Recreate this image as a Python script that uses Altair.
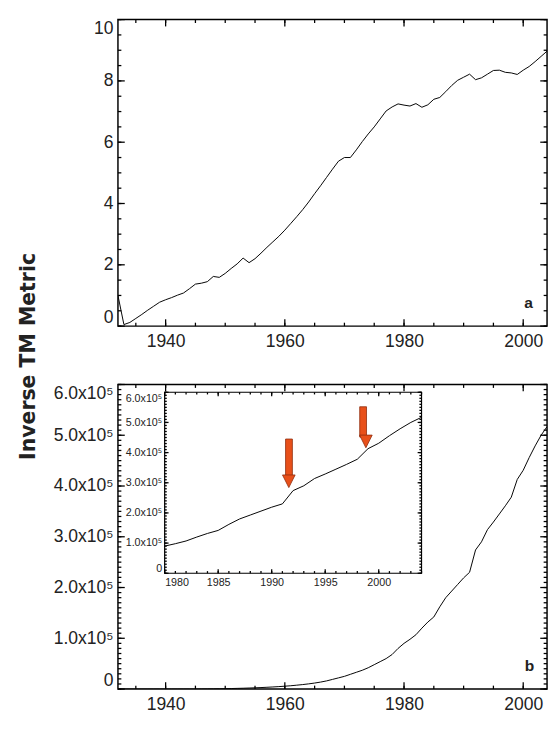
import altair as alt
import pandas as pd

# ---------------- data ----------------
years = list(range(1932, 2005))

# panel a: Inverse TM metric
inverse_a = [
    1.00, 0.05, 0.12, 0.25, 0.38, 0.52, 0.65, 0.78, 0.86, 0.93,   # 1932-1941
    1.01, 1.08, 1.22, 1.37, 1.40, 1.45, 1.62, 1.59, 1.72, 1.88,   # 1942-1951
    2.03, 2.22, 2.07, 2.20, 2.38, 2.57, 2.75, 2.93, 3.13, 3.35,   # 1952-1961
    3.57, 3.80, 4.05, 4.32, 4.58, 4.85, 5.12, 5.38, 5.50, 5.50,   # 1962-1971
    5.75, 6.02, 6.27, 6.50, 6.76, 7.02, 7.15, 7.25, 7.21, 7.18,   # 1972-1981
    7.26, 7.14, 7.22, 7.40, 7.46, 7.65, 7.85, 8.02, 8.12, 8.22,   # 1982-1991
    8.04, 8.10, 8.22, 8.34, 8.35, 8.28, 8.26, 8.21, 8.35, 8.47,   # 1992-2001
    8.63, 8.80, 8.97,                                             # 2002-2004
]

# panel b: Inverse TM metric, in units of 10^5
inverse_b = [
    0.0, 0.0, 0.0, 0.0, 0.0, 0.0, 0.0, 0.0, 0.0, 0.0,             # 1932-1941
    0.0, 0.0, 0.0, 0.0, 0.002, 0.003, 0.004, 0.006, 0.008, 0.010, # 1942-1951
    0.013, 0.016, 0.020, 0.024, 0.029, 0.035, 0.041, 0.048, 0.056, 0.065,  # 1952-1961
    0.076, 0.088, 0.102, 0.118, 0.137, 0.16, 0.19, 0.22, 0.25, 0.29,       # 1962-1971
    0.33, 0.37, 0.42, 0.48, 0.54, 0.60, 0.68, 0.80, 0.90, 0.98,   # 1972-1981
    1.07, 1.20, 1.32, 1.42, 1.62, 1.80, 1.93, 2.06, 2.19, 2.30,   # 1982-1991
    2.74, 2.90, 3.14, 3.29, 3.45, 3.61, 3.78, 4.13, 4.31, 4.56,   # 1992-2001
    4.79, 5.00, 5.17,                                             # 2002-2004
]

arrow_years = [1991.6, 1998.8]
arrow_tops = [4.45, 5.52]
arrow_tips = [2.84, 4.16]

inset_years = [1980, 2004]
inset_values = [0, 6]

major_x_main = [1940, 1960, 1980, 2000]
minor_x_main = list(range(1935, 2005, 5))
major_y_a = [0, 2, 4, 6, 8, 10]
minor_y_a = [i * 0.5 for i in range(21)]
major_y_b = [0, 1, 2, 3, 4, 5, 6]
minor_y_b = [i / 10 for i in range(61)]
major_x_in = [1980, 1985, 1990, 1995, 2000]
minor_x_in = list(range(1980, 2005))

df_a = pd.DataFrame({"year": years, "v": inverse_a})
df_b = pd.DataFrame({"year": years, "v": inverse_b})
df_in = df_b[df_b["year"] >= inset_years[0]]
df_arrow = pd.DataFrame({"year": arrow_years, "top": arrow_tops, "tip": arrow_tips})
df_frame = pd.DataFrame({"x": [inset_years[0]], "x2": [inset_years[1]],
                         "y": [inset_values[0]], "y2": [inset_values[1]]})

# ---------------- layout constants ----------------
W = 441
HA = 315
HB = 313
FONT = "Liberation Sans"
TICK = "#000000"
MAJ, MIN = 7, 3.5
IMAJ, IMIN = 4, 2.2
IN_L, IN_R, IN_T, IN_B = 48, 312, 8, 194
LBL = 18
EXPR_B = "datum.value == 0 ? '0' : format(datum.value, '.1f') + 'x10\u2075'"


def label_axis(orient, values, offset=0, **kw):
    return alt.Axis(orient=orient, values=values, ticks=False, domain=False, grid=False,
                    title=None, offset=offset, **kw)


def x_ticks(values, scale, length, y_bottom, y_top):
    base = alt.Chart(pd.DataFrame({"t": values})).mark_rule(color=TICK, strokeWidth=1.3)
    return [base.encode(x=alt.X("t:Q", scale=scale, axis=None),
                        y=alt.value(y_bottom - length), y2=alt.value(y_bottom)),
            base.encode(x=alt.X("t:Q", scale=scale, axis=None),
                        y=alt.value(y_top), y2=alt.value(y_top + length))]


def y_ticks(values, scale, length, x_left, x_right):
    base = alt.Chart(pd.DataFrame({"t": values})).mark_rule(color=TICK, strokeWidth=1.3)
    return [base.encode(y=alt.Y("t:Q", scale=scale, axis=None),
                        x=alt.value(x_left), x2=alt.value(x_left + length)),
            base.encode(y=alt.Y("t:Q", scale=scale, axis=None),
                        x=alt.value(x_right - length), x2=alt.value(x_right))]


def all_ticks(xs, ys, xmaj, xmin, ymaj, ymin, smaj, smin, left, right, top, bottom):
    return (x_ticks(xmaj, xs, smaj, bottom, top) + x_ticks(xmin, xs, smin, bottom, top)
            + y_ticks(ymaj, ys, smaj, left, right) + y_ticks(ymin, ys, smin, left, right))


def resolve(layered, height):
    return layered.resolve_scale(x="independent", y="independent").resolve_axis(
        x="independent", y="independent").properties(width=W, height=height)


# ---------------- panel a ----------------
xs_main = alt.Scale(domain=[1932, 2004], nice=False, zero=False)
ys_a = alt.Scale(domain=[0, 10], nice=False)

line_a = alt.Chart(df_a).mark_line(color="black", strokeWidth=1, clip=True).encode(
    x=alt.X("year:Q", scale=xs_main,
            axis=label_axis("bottom", major_x_main, format="d", labelPadding=7, labelFontSize=LBL)),
    y=alt.Y("v:Q", scale=ys_a,
            axis=label_axis("left", major_y_a, labelPadding=5, labelFontSize=LBL, labelFlush=True)),
)
ticks_a = all_ticks(xs_main, ys_a, major_x_main, minor_x_main, major_y_a, minor_y_a,
                    MAJ, MIN, 0, W, 0, HA)
label_a = alt.Chart(pd.DataFrame({"t": ["a"]})).mark_text(
    font=FONT, fontSize=16, fontWeight="bold", color="#222"
).encode(text="t:N", x=alt.value(422), y=alt.value(291))

panel_a = resolve(alt.layer(line_a, *ticks_a, label_a), HA)

# ---------------- panel b ----------------
ys_b = alt.Scale(domain=[0, 6], nice=False)
line_b = alt.Chart(df_b).mark_line(color="black", strokeWidth=1, clip=True).encode(
    x=alt.X("year:Q", scale=xs_main,
            axis=label_axis("bottom", major_x_main, format="d", labelPadding=7, labelFontSize=LBL)),
    y=alt.Y("v:Q", scale=ys_b,
            axis=label_axis("left", major_y_b, labelPadding=5, labelFontSize=LBL,
                            labelFlush=True, labelExpr=EXPR_B)),
)
ticks_b = all_ticks(xs_main, ys_b, major_x_main, minor_x_main, major_y_b, minor_y_b,
                    MAJ, MIN, 0, W, 0, HB)

xs_in = alt.Scale(domain=inset_years, range=[IN_L, IN_R], nice=False, zero=False)
ys_in = alt.Scale(domain=inset_values, range=[IN_B, IN_T], nice=False)

inset_frame = alt.Chart(df_frame).mark_rect(
    filled=False, stroke="black", strokeWidth=1.2
).encode(
    x=alt.X("x:Q", scale=xs_in, axis=None), x2="x2:Q",
    y=alt.Y("y:Q", scale=ys_in, axis=None), y2="y2:Q",
)
line_in = alt.Chart(df_in).mark_line(color="black", strokeWidth=1, clip=True).encode(
    x=alt.X("year:Q", scale=xs_in,
            axis=label_axis("bottom", major_x_in, offset=IN_B - HB, format="d",
                            labelPadding=4, labelFontSize=11)),
    y=alt.Y("v:Q", scale=ys_in,
            axis=label_axis("left", major_y_b, offset=-IN_L, labelPadding=3, labelFontSize=11,
                            labelFlush=True, labelExpr=EXPR_B)),
)
ticks_in = all_ticks(xs_in, ys_in, major_x_in, minor_x_in, major_y_b, minor_y_b,
                     IMAJ, IMIN, IN_L, IN_R, IN_T, IN_B)

ARROW_FILL = "#E8501A"
ARROW_STROKE = "#8E2A0C"
shafts = alt.Chart(df_arrow).mark_bar(
    size=7, color=ARROW_FILL, stroke=ARROW_STROKE, strokeWidth=0.8, y2Offset=-11
).encode(
    x=alt.X("year:Q", scale=xs_in, axis=None),
    y=alt.Y("top:Q", scale=ys_in, axis=None), y2="tip:Q",
)
heads = alt.Chart(df_arrow).mark_point(
    shape="M-1,-2L1,-2L0,0Z", filled=True, size=169, fill=ARROW_FILL,
    stroke=ARROW_STROKE, strokeWidth=0.8, opacity=1
).encode(
    x=alt.X("year:Q", scale=xs_in, axis=None),
    y=alt.Y("tip:Q", scale=ys_in, axis=None),
)

label_b = alt.Chart(pd.DataFrame({"t": ["b"]})).mark_text(
    font=FONT, fontSize=16, fontWeight="bold", color="#222"
).encode(text="t:N", x=alt.value(423), y=alt.value(289))

panel_b = resolve(alt.layer(line_b, *ticks_b, inset_frame, line_in, *ticks_in,
                            shafts, heads, label_b), HB)

chart = alt.vconcat(
    panel_a, panel_b, spacing=32,
    title=alt.TitleParams("Inverse TM Metric", orient="left", anchor="middle",
                          font="DejaVu Sans", fontSize=21, fontWeight="bold",
                          color="#222", offset=14, dx=10),
).properties(
    padding={"left": 10, "top": 0, "right": 0, "bottom": 0}
).configure_view(
    stroke="black", strokeWidth=1.5
).configure_axis(
    labelFont=FONT, labelColor="#222"
)

chart.save("out.html", embed_options={"renderer": "svg", "actions": False})
